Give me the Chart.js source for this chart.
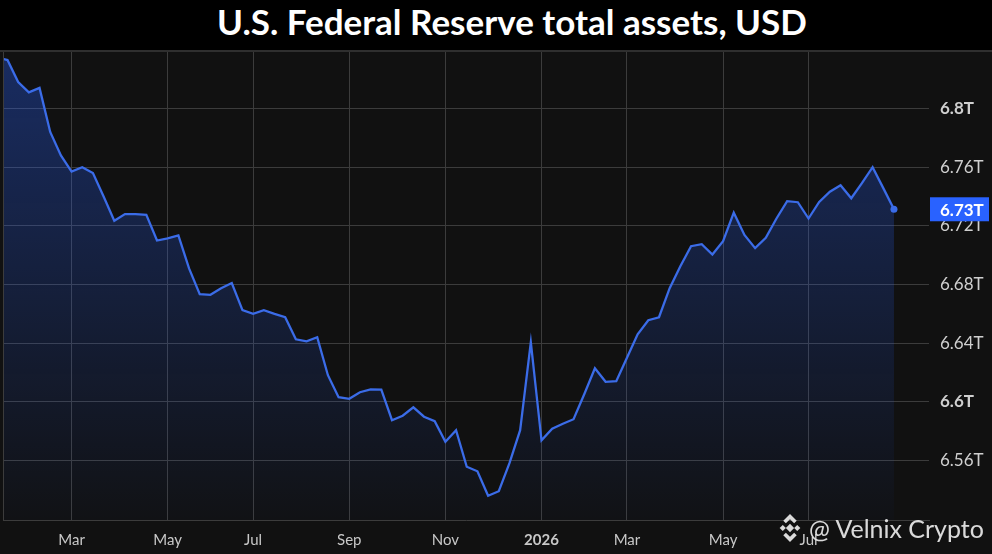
<!DOCTYPE html>
<html>
<head>
<meta charset="utf-8">
<script src="https://cdn.jsdelivr.net/npm/chart.js@4.4.1/dist/chart.umd.min.js"></script>
<style>
  html, body { margin: 0; padding: 0; background: #000; }
  #wrap { position: relative; width: 992px; height: 554px; overflow: hidden; background: #000; }
  #title { position: absolute; left: 32px; top: 0; width: 960px; height: 50px; line-height: 46px; text-align: center;
           color: #fff; font: bold 35px Lato, sans-serif; }
  #panel { position: absolute; left: 0; top: 50px; width: 992px; height: 502px; background: #111111; border-top: 2px solid #2f2f2f; }
  #mark { position: absolute; left: 776px; top: 512px; height: 32px; display: flex; align-items: center;
          color: rgba(236,236,236,0.92); font: 25px Lato, sans-serif; white-space: nowrap; }
  #mark svg { margin-right: 5px; }
</style>
</head>
<body>
<div id="wrap">
  <div id="title">U.S. Federal Reserve total assets, USD</div>
  <div id="panel"><canvas id="assets" width="992" height="502"></canvas></div>
  <div id="mark">
    <svg width="28" height="30" viewBox="0 0 27 29">
      <g fill="rgba(236,236,236,0.92)">
        <polygon points="13.5,1 20,7.5 17.5,10 13.5,6 9.5,10 7,7.5"/>
        <polygon points="13.5,28 20,21.5 17.5,19 13.5,23 9.5,19 7,21.5"/>
        <polygon points="3.5,14.5 6.5,11.5 9.5,14.5 6.5,17.5"/>
        <polygon points="23.5,14.5 20.5,11.5 17.5,14.5 20.5,17.5"/>
        <polygon points="13.5,10.5 17.5,14.5 13.5,18.5 9.5,14.5"/>
      </g>
    </svg>
    <span>@ Velnix Crypto</span>
  </div>
</div>
<script>
// weekly values, trillions USD (first point sits just off the left edge)
const assetValues = [
  6.835, 6.833, 6.818, 6.811, 6.814, 6.784, 6.768, 6.757, 6.760, 6.756,
  6.740, 6.7235, 6.728, 6.728, 6.7275, 6.710, 6.7115, 6.7135, 6.691, 6.6735,
  6.673, 6.6775, 6.681, 6.6625, 6.660, 6.6625, 6.660, 6.6577, 6.6427, 6.6413,
  6.6441, 6.6182, 6.6032, 6.6021, 6.6066, 6.6086, 6.6083, 6.5875, 6.5906, 6.5963,
  6.5899, 6.5868, 6.5728, 6.5807, 6.5558, 6.5527, 6.536, 6.5391, 6.5582, 6.5807,
  6.6407, 6.5738, 6.5817, 6.5851, 6.5882, 6.6052, 6.6229, 6.6137, 6.6141, 6.6301,
  6.6461, 6.6557, 6.6577, 6.6775, 6.6925, 6.7061, 6.7075, 6.7005, 6.7095, 6.729,
  6.7138, 6.7048, 6.7118, 6.725, 6.7368, 6.7361, 6.725, 6.7363, 6.7433, 6.7477,
  6.7388, 6.7491, 6.760, 6.7457, 6.7313
];

// month labels and the week they fall on
const monthWeeks = [7, 16, 24, 33, 42, 51, 59, 68, 76];
const monthLabels = ["Mar", "May", "Jul", "Sep", "Nov", "2026", "Mar", "May", "Jul"];
const yearWeek = 51;

const priceTicks = [6.56, 6.6, 6.64, 6.68, 6.72, 6.76, 6.8];
const boldPrices = [6.6, 6.8];

const gridColor = "#3c3c3c";
const lineColor = "#3b6ce8";
const lastIndex = assetValues.length - 1;

const decor = {
  id: "decor",
  afterDraw(chart) {
    const { ctx, chartArea } = chart;
    ctx.save();
    // left edge
    ctx.strokeStyle = gridColor;
    ctx.lineWidth = 1;
    ctx.beginPath();
    ctx.moveTo(chartArea.left + 0.5, chartArea.top);
    ctx.lineTo(chartArea.left + 0.5, chartArea.bottom);
    ctx.stroke();

    // last value badge
    const y = chart.scales.y.getPixelForValue(assetValues[lastIndex]);
    ctx.fillStyle = "#2962ff";
    ctx.fillRect(chartArea.right + 1, y - 12, 59, 24);
    ctx.fillStyle = "#ffffff";
    ctx.font = "bold 17px Lato, sans-serif";
    ctx.textAlign = "left";
    ctx.textBaseline = "middle";
    ctx.fillText(assetValues[lastIndex].toFixed(2) + "T", chartArea.right + 11, y + 1);
    ctx.restore();
  }
};

function noPadding(scale) {
  scale.paddingTop = 0;
  scale.paddingBottom = 0;
  scale.paddingLeft = 0;
  scale.paddingRight = 0;
}

const canvas = document.getElementById("assets");
const ctx = canvas.getContext("2d");

new Chart(ctx, {
  type: "line",
  data: {
    datasets: [{
      data: assetValues.map((v, i) => ({ x: i, y: v })),
      borderColor: lineColor,
      borderWidth: 2.3,
      tension: 0,
      fill: "start",
      backgroundColor: (c) => {
        const area = c.chart.chartArea;
        if (!area) return "rgba(41,98,255,0.2)";
        const g = c.chart.ctx.createLinearGradient(0, area.top, 0, area.bottom);
        g.addColorStop(0, "rgba(41,98,255,0.34)");
        g.addColorStop(1, "rgba(41,98,255,0.02)");
        return g;
      },
      pointRadius: (c) => (c.dataIndex === lastIndex ? 3.5 : 0),
      pointBackgroundColor: lineColor,
      pointBorderWidth: 0,
      pointHoverRadius: 0
    }]
  },
  options: {
    responsive: false,
    animation: false,
    layout: { autoPadding: false, padding: { left: 3, top: 0, right: 0, bottom: 0 } },
    plugins: { legend: { display: false }, title: { display: false }, tooltip: { enabled: false } },
    scales: {
      x: {
        type: "linear",
        min: 0.58,
        max: 87.28,
        afterBuildTicks: (scale) => { scale.ticks = monthWeeks.map(v => ({ value: v })); },
        afterFit: (scale) => { scale.height = 34; noPadding(scale); },
        grid: { color: gridColor, drawTicks: false },
        border: { display: true, color: gridColor },
        ticks: {
          autoSkip: false,
          maxRotation: 0,
          padding: 11,
          color: "#c8c8c8",
          font: (c) => ({ family: "Lato, sans-serif", size: 15, weight: c.tick && c.tick.value === yearWeek ? "bold" : "normal" }),
          callback: (v) => monthLabels[monthWeeks.indexOf(v)]
        }
      },
      y: {
        position: "right",
        min: 6.5195,
        max: 6.8385,
        afterBuildTicks: (scale) => { scale.ticks = priceTicks.map(v => ({ value: v })); },
        afterFit: (scale) => { scale.width = 63; noPadding(scale); },
        grid: { color: gridColor, drawTicks: false },
        border: { display: false },
        ticks: {
          padding: 11,
          color: "#cfcfcf",
          font: (c) => ({ family: "Lato, sans-serif", size: 17, weight: c.tick && boldPrices.includes(c.tick.value) ? "bold" : "normal" }),
          callback: (v) => parseFloat(v.toFixed(2)) + "T"
        }
      }
    }
  },
  plugins: [decor]
});
</script>
</body>
</html>
